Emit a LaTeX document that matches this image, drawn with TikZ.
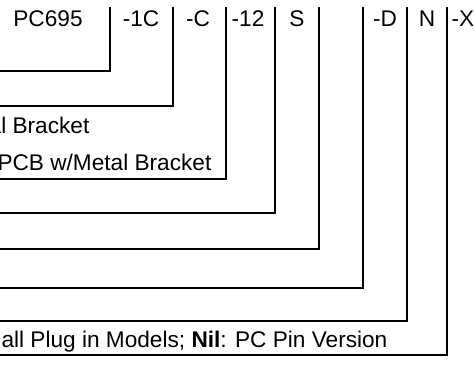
\documentclass[tikz,border=0pt]{standalone}
\usepackage{fontspec}
\setmainfont{Liberation Sans}

\begin{document}
\begin{tikzpicture}[x=1cm,y=1cm,line width=0.95pt,
  code/.style={anchor=base,font=\fontsize{16.1}{19}\selectfont,inner sep=0pt},
  note/.style={anchor=base east,font=\fontsize{16.1}{19}\selectfont,inner sep=0pt}]
  \path[use as bounding box,clip] (0,0) rectangle (11.875,9.575);
  % ordering code fields
  \foreach \x/\lab/\name in {1.2/PC695/base,3.525/-1C/pins,4.95/-C/brk,6.2/-12/volt,
      7.425/S/seal,9.625/-D/diode,10.675/N/plug,11.575/-X/opt}
    \node[code] (\name) at (\x,8.92) {\lab};
  % brackets from each field down to its line of text
  \foreach \x/\yb/\name in {2.75/7.8/a,4.325/6.925/b,5.65/5.1/c,6.875/4.25/d,
      7.975/3.35/e,9.075/2.375/f,10.175/1.55/g,11.175/0.7/h} {
    \coordinate (top\name) at (\x,9.4);
    \coordinate (end\name) at (-0.2,\yb);
    \draw (top\name) |- (end\name);
  }
  \node[note] (txtb) at (2.25,6.25) {al Bracket};
  \node[note] (txtc) at (5.3,5.325) {PCB w/Metal Bracket};
  \node[note] (txth) at (9.7,0.9) {all Plug in Models; \textbf{Nil}: PC Pin Version};
\end{tikzpicture}
\end{document}
